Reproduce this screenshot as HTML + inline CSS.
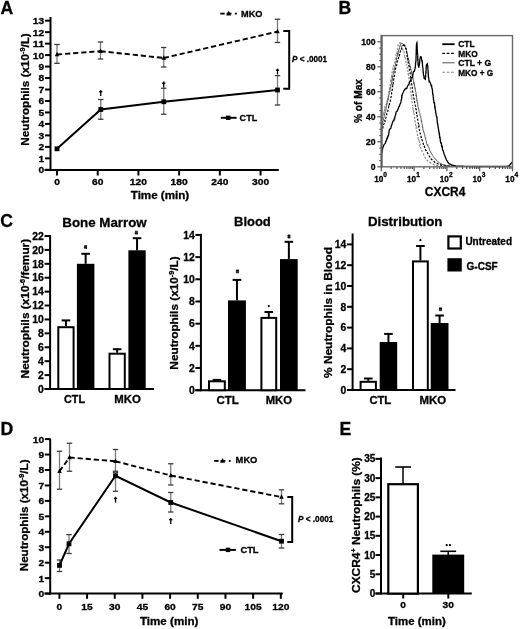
<!DOCTYPE html>
<html><head><meta charset="utf-8"><style>
html,body{margin:0;padding:0;background:#fff;}
svg{display:block;will-change:transform;}
text{stroke:#000;stroke-width:0.3px;font-family:"Liberation Sans", sans-serif;}
</style></head><body>
<svg width="520" height="629" viewBox="0 0 520 629" font-family='"Liberation Sans", sans-serif'>
<rect width="520" height="629" fill="#fff"/>
<text x="0.6" y="14.1" font-size="17.6" font-weight="bold" fill="#000">A</text>
<line x1="50.5" y1="17" x2="50.5" y2="171" stroke="#000" stroke-width="2"/>
<line x1="45" y1="169.8" x2="50.5" y2="169.8" stroke="#000" stroke-width="2"/>
<text x="44.2" y="173.20" font-size="9.5" font-weight="bold" text-anchor="end" textLength="5.7" lengthAdjust="spacingAndGlyphs" fill="#000">0</text>
<line x1="45" y1="158.33" x2="50.5" y2="158.33" stroke="#000" stroke-width="2"/>
<text x="44.2" y="161.73" font-size="9.5" font-weight="bold" text-anchor="end" textLength="5.7" lengthAdjust="spacingAndGlyphs" fill="#000">1</text>
<line x1="45" y1="146.86" x2="50.5" y2="146.86" stroke="#000" stroke-width="2"/>
<text x="44.2" y="150.26" font-size="9.5" font-weight="bold" text-anchor="end" textLength="5.7" lengthAdjust="spacingAndGlyphs" fill="#000">2</text>
<line x1="45" y1="135.39" x2="50.5" y2="135.39" stroke="#000" stroke-width="2"/>
<text x="44.2" y="138.79" font-size="9.5" font-weight="bold" text-anchor="end" textLength="5.7" lengthAdjust="spacingAndGlyphs" fill="#000">3</text>
<line x1="45" y1="123.92" x2="50.5" y2="123.92" stroke="#000" stroke-width="2"/>
<text x="44.2" y="127.32" font-size="9.5" font-weight="bold" text-anchor="end" textLength="5.7" lengthAdjust="spacingAndGlyphs" fill="#000">4</text>
<line x1="45" y1="112.45" x2="50.5" y2="112.45" stroke="#000" stroke-width="2"/>
<text x="44.2" y="115.85" font-size="9.5" font-weight="bold" text-anchor="end" textLength="5.7" lengthAdjust="spacingAndGlyphs" fill="#000">5</text>
<line x1="45" y1="100.98" x2="50.5" y2="100.98" stroke="#000" stroke-width="2"/>
<text x="44.2" y="104.38" font-size="9.5" font-weight="bold" text-anchor="end" textLength="5.7" lengthAdjust="spacingAndGlyphs" fill="#000">6</text>
<line x1="45" y1="89.51" x2="50.5" y2="89.51" stroke="#000" stroke-width="2"/>
<text x="44.2" y="92.91" font-size="9.5" font-weight="bold" text-anchor="end" textLength="5.7" lengthAdjust="spacingAndGlyphs" fill="#000">7</text>
<line x1="45" y1="78.04" x2="50.5" y2="78.04" stroke="#000" stroke-width="2"/>
<text x="44.2" y="81.44" font-size="9.5" font-weight="bold" text-anchor="end" textLength="5.7" lengthAdjust="spacingAndGlyphs" fill="#000">8</text>
<line x1="45" y1="66.57" x2="50.5" y2="66.57" stroke="#000" stroke-width="2"/>
<text x="44.2" y="69.97" font-size="9.5" font-weight="bold" text-anchor="end" textLength="5.7" lengthAdjust="spacingAndGlyphs" fill="#000">9</text>
<line x1="45" y1="55.10" x2="50.5" y2="55.10" stroke="#000" stroke-width="2"/>
<text x="44.2" y="58.50" font-size="9.5" font-weight="bold" text-anchor="end" textLength="11.4" lengthAdjust="spacingAndGlyphs" fill="#000">10</text>
<line x1="45" y1="43.63" x2="50.5" y2="43.63" stroke="#000" stroke-width="2"/>
<text x="44.2" y="47.03" font-size="9.5" font-weight="bold" text-anchor="end" textLength="11.4" lengthAdjust="spacingAndGlyphs" fill="#000">11</text>
<line x1="45" y1="32.16" x2="50.5" y2="32.16" stroke="#000" stroke-width="2"/>
<text x="44.2" y="35.55" font-size="9.5" font-weight="bold" text-anchor="end" textLength="11.4" lengthAdjust="spacingAndGlyphs" fill="#000">12</text>
<line x1="45" y1="20.68" x2="50.5" y2="20.68" stroke="#000" stroke-width="2"/>
<text x="44.2" y="24.08" font-size="9.5" font-weight="bold" text-anchor="end" textLength="11.4" lengthAdjust="spacingAndGlyphs" fill="#000">13</text>
<line x1="44.5" y1="170" x2="278.8" y2="170" stroke="#000" stroke-width="2"/>
<line x1="57.0" y1="170" x2="57.0" y2="175.5" stroke="#000" stroke-width="2"/>
<text x="57.0" y="185.4" font-size="9.5" font-weight="bold" text-anchor="middle" textLength="5.7" lengthAdjust="spacingAndGlyphs" fill="#000">0</text>
<line x1="97.71" y1="170" x2="97.71" y2="175.5" stroke="#000" stroke-width="2"/>
<text x="97.71" y="185.4" font-size="9.5" font-weight="bold" text-anchor="middle" textLength="11.4" lengthAdjust="spacingAndGlyphs" fill="#000">60</text>
<line x1="138.42" y1="170" x2="138.42" y2="175.5" stroke="#000" stroke-width="2"/>
<text x="138.42" y="185.4" font-size="9.5" font-weight="bold" text-anchor="middle" textLength="17.1" lengthAdjust="spacingAndGlyphs" fill="#000">120</text>
<line x1="179.13" y1="170" x2="179.13" y2="175.5" stroke="#000" stroke-width="2"/>
<text x="179.13" y="185.4" font-size="9.5" font-weight="bold" text-anchor="middle" textLength="17.1" lengthAdjust="spacingAndGlyphs" fill="#000">180</text>
<line x1="219.84" y1="170" x2="219.84" y2="175.5" stroke="#000" stroke-width="2"/>
<text x="219.84" y="185.4" font-size="9.5" font-weight="bold" text-anchor="middle" textLength="17.1" lengthAdjust="spacingAndGlyphs" fill="#000">240</text>
<line x1="260.55" y1="170" x2="260.55" y2="175.5" stroke="#000" stroke-width="2"/>
<text x="260.55" y="185.4" font-size="9.5" font-weight="bold" text-anchor="middle" textLength="17.1" lengthAdjust="spacingAndGlyphs" fill="#000">300</text>
<text x="160" y="199" font-size="11" font-weight="bold" text-anchor="middle" textLength="58.5" lengthAdjust="spacingAndGlyphs" fill="#000">Time (min)</text>
<text transform="translate(29.4,89.45) rotate(-90)" x="0" y="0" font-size="11.4" font-weight="bold" text-anchor="middle" textLength="112.4" lengthAdjust="spacingAndGlyphs">Neutrophils (x10<tspan dy="-4" font-size="7">-9</tspan><tspan dy="4">/L)</tspan></text>
<line x1="57" y1="44.5" x2="57" y2="63.3" stroke="#7a7a7a" stroke-width="1.3"/>
<line x1="54.3" y1="44.5" x2="59.7" y2="44.5" stroke="#3a3a3a" stroke-width="1.3"/>
<line x1="54.3" y1="63.3" x2="59.7" y2="63.3" stroke="#3a3a3a" stroke-width="1.3"/>
<line x1="100.5" y1="42" x2="100.5" y2="59" stroke="#7a7a7a" stroke-width="1.3"/>
<line x1="97.8" y1="42" x2="103.2" y2="42" stroke="#3a3a3a" stroke-width="1.3"/>
<line x1="97.8" y1="59" x2="103.2" y2="59" stroke="#3a3a3a" stroke-width="1.3"/>
<line x1="163.75" y1="47.5" x2="163.75" y2="67" stroke="#7a7a7a" stroke-width="1.3"/>
<line x1="161.05" y1="47.5" x2="166.45" y2="47.5" stroke="#3a3a3a" stroke-width="1.3"/>
<line x1="161.05" y1="67" x2="166.45" y2="67" stroke="#3a3a3a" stroke-width="1.3"/>
<line x1="277.5" y1="19.25" x2="277.5" y2="42.5" stroke="#7a7a7a" stroke-width="1.3"/>
<line x1="274.8" y1="19.25" x2="280.2" y2="19.25" stroke="#3a3a3a" stroke-width="1.3"/>
<line x1="274.8" y1="42.5" x2="280.2" y2="42.5" stroke="#3a3a3a" stroke-width="1.3"/>
<line x1="57" y1="54.5" x2="100.5" y2="51.2" stroke="#000" stroke-width="1.9" stroke-dasharray="5.2,2.9"/>
<line x1="100.5" y1="51.2" x2="163.75" y2="58" stroke="#000" stroke-width="1.9" stroke-dasharray="5.2,2.9"/>
<line x1="163.75" y1="58" x2="277.5" y2="31.6" stroke="#000" stroke-width="1.9" stroke-dasharray="5.2,2.9"/>
<path d="M54.75,56.25 L57,51.75 L59.25,56.25 Z" fill="#000"/>
<path d="M98.25,52.95 L100.5,48.45 L102.75,52.95 Z" fill="#000"/>
<path d="M161.5,59.75 L163.75,55.25 L166.0,59.75 Z" fill="#000"/>
<path d="M275.25,33.35 L277.5,28.85 L279.75,33.35 Z" fill="#000"/>
<line x1="100.75" y1="99.5" x2="100.75" y2="119.25" stroke="#7a7a7a" stroke-width="1.3"/>
<line x1="98.05" y1="99.5" x2="103.45" y2="99.5" stroke="#3a3a3a" stroke-width="1.3"/>
<line x1="98.05" y1="119.25" x2="103.45" y2="119.25" stroke="#3a3a3a" stroke-width="1.3"/>
<line x1="163.75" y1="88.25" x2="163.75" y2="114.25" stroke="#7a7a7a" stroke-width="1.3"/>
<line x1="161.05" y1="88.25" x2="166.45" y2="88.25" stroke="#3a3a3a" stroke-width="1.3"/>
<line x1="161.05" y1="114.25" x2="166.45" y2="114.25" stroke="#3a3a3a" stroke-width="1.3"/>
<line x1="277.5" y1="75.6" x2="277.5" y2="105" stroke="#7a7a7a" stroke-width="1.3"/>
<line x1="274.8" y1="75.6" x2="280.2" y2="75.6" stroke="#3a3a3a" stroke-width="1.3"/>
<line x1="274.8" y1="105" x2="280.2" y2="105" stroke="#3a3a3a" stroke-width="1.3"/>
<polyline points="57,148.8 100.75,109.5 163.75,101.75 277.5,90" fill="none" stroke="#000" stroke-width="2"/>
<rect x="54.6" y="146.4" width="4.8" height="4.8" fill="#000"/>
<rect x="98.35" y="107.1" width="4.8" height="4.8" fill="#000"/>
<rect x="161.35" y="99.35" width="4.8" height="4.8" fill="#000"/>
<rect x="275.1" y="87.6" width="4.8" height="4.8" fill="#000"/>
<line x1="100.75" y1="90.1" x2="100.75" y2="95.9" stroke="#000" stroke-width="1.3"/>
<line x1="99.15" y1="91.7" x2="102.35" y2="91.7" stroke="#000" stroke-width="1.4"/>
<line x1="163.75" y1="81.6" x2="163.75" y2="87.4" stroke="#000" stroke-width="1.3"/>
<line x1="162.15" y1="83.2" x2="165.35" y2="83.2" stroke="#000" stroke-width="1.4"/>
<line x1="277.5" y1="68.6" x2="277.5" y2="74.4" stroke="#000" stroke-width="1.3"/>
<line x1="275.9" y1="70.2" x2="279.1" y2="70.2" stroke="#000" stroke-width="1.4"/>
<path d="M283.3,31 H289.2 V88.8 H283.3" fill="none" stroke="#000" stroke-width="2"/>
<text x="292" y="62.2" font-size="8.5" font-weight="bold" textLength="35" lengthAdjust="spacingAndGlyphs" fill="#000"><tspan font-style="italic">P</tspan> &lt; .0001</text>
<line x1="220.3" y1="13.6" x2="224.70" y2="13.6" stroke="#000" stroke-width="1.8"/>
<line x1="226.60" y1="13.6" x2="231.5" y2="13.6" stroke="#000" stroke-width="1.8"/>
<path d="M226.20,15.4 L228.70,10.7 L231.20,15.4 Z" fill="#000"/>
<line x1="234.9" y1="13.6" x2="236.8" y2="13.6" stroke="#000" stroke-width="1.8"/>
<text x="241" y="16.7" font-size="9.4" font-weight="bold" textLength="21.4" lengthAdjust="spacingAndGlyphs" fill="#000">MKO</text>
<line x1="220.8" y1="117.8" x2="236.6" y2="117.8" stroke="#000" stroke-width="2"/>
<rect x="226.0" y="115.6" width="4.4" height="4.4" fill="#000"/>
<text x="239.6" y="120.6" font-size="9.4" font-weight="bold" textLength="17.6" lengthAdjust="spacingAndGlyphs" fill="#000">CTL</text>
<text x="338.4" y="14.1" font-size="17.6" font-weight="bold" fill="#000">B</text>
<line x1="377.3" y1="166.8" x2="381.3" y2="166.8" stroke="#555" stroke-width="1.2"/>
<line x1="379.3" y1="160.55" x2="381.3" y2="160.55" stroke="#555" stroke-width="1.2"/>
<line x1="379.3" y1="154.3" x2="381.3" y2="154.3" stroke="#555" stroke-width="1.2"/>
<line x1="379.3" y1="148.05" x2="381.3" y2="148.05" stroke="#555" stroke-width="1.2"/>
<line x1="377.3" y1="141.8" x2="381.3" y2="141.8" stroke="#555" stroke-width="1.2"/>
<line x1="379.3" y1="135.55" x2="381.3" y2="135.55" stroke="#555" stroke-width="1.2"/>
<line x1="379.3" y1="129.3" x2="381.3" y2="129.3" stroke="#555" stroke-width="1.2"/>
<line x1="379.3" y1="123.05" x2="381.3" y2="123.05" stroke="#555" stroke-width="1.2"/>
<line x1="377.3" y1="116.80" x2="381.3" y2="116.80" stroke="#555" stroke-width="1.2"/>
<line x1="379.3" y1="110.55" x2="381.3" y2="110.55" stroke="#555" stroke-width="1.2"/>
<line x1="379.3" y1="104.30" x2="381.3" y2="104.30" stroke="#555" stroke-width="1.2"/>
<line x1="379.3" y1="98.05" x2="381.3" y2="98.05" stroke="#555" stroke-width="1.2"/>
<line x1="377.3" y1="91.80" x2="381.3" y2="91.80" stroke="#555" stroke-width="1.2"/>
<line x1="379.3" y1="85.55" x2="381.3" y2="85.55" stroke="#555" stroke-width="1.2"/>
<line x1="379.3" y1="79.30" x2="381.3" y2="79.30" stroke="#555" stroke-width="1.2"/>
<line x1="379.3" y1="73.05" x2="381.3" y2="73.05" stroke="#555" stroke-width="1.2"/>
<line x1="377.3" y1="66.80" x2="381.3" y2="66.80" stroke="#555" stroke-width="1.2"/>
<line x1="379.3" y1="60.55" x2="381.3" y2="60.55" stroke="#555" stroke-width="1.2"/>
<line x1="379.3" y1="54.30" x2="381.3" y2="54.30" stroke="#555" stroke-width="1.2"/>
<line x1="379.3" y1="48.05" x2="381.3" y2="48.05" stroke="#555" stroke-width="1.2"/>
<line x1="377.3" y1="41.80" x2="381.3" y2="41.80" stroke="#555" stroke-width="1.2"/>
<text x="375.6" y="169.8" font-size="8.6" font-weight="bold" text-anchor="end" fill="#000">0</text>
<text x="375.6" y="144.8" font-size="8.6" font-weight="bold" text-anchor="end" fill="#000">20</text>
<text x="375.6" y="119.80" font-size="8.6" font-weight="bold" text-anchor="end" fill="#000">40</text>
<text x="375.6" y="94.80" font-size="8.6" font-weight="bold" text-anchor="end" fill="#000">60</text>
<text x="375.6" y="69.80" font-size="8.6" font-weight="bold" text-anchor="end" fill="#000">80</text>
<text x="375.6" y="44.80" font-size="8.6" font-weight="bold" text-anchor="end" fill="#000">100</text>
<line x1="381.3" y1="166.8" x2="381.3" y2="171.3" stroke="#555" stroke-width="1.2"/>
<line x1="391.17" y1="166.8" x2="391.17" y2="169.0" stroke="#555" stroke-width="1.2"/>
<line x1="396.94" y1="166.8" x2="396.94" y2="169.0" stroke="#555" stroke-width="1.2"/>
<line x1="401.04" y1="166.8" x2="401.04" y2="169.0" stroke="#555" stroke-width="1.2"/>
<line x1="404.22" y1="166.8" x2="404.22" y2="169.0" stroke="#555" stroke-width="1.2"/>
<line x1="406.82" y1="166.8" x2="406.82" y2="169.0" stroke="#555" stroke-width="1.2"/>
<line x1="409.01" y1="166.8" x2="409.01" y2="169.0" stroke="#555" stroke-width="1.2"/>
<line x1="410.92" y1="166.8" x2="410.92" y2="169.0" stroke="#555" stroke-width="1.2"/>
<line x1="412.59" y1="166.8" x2="412.59" y2="169.0" stroke="#555" stroke-width="1.2"/>
<line x1="414.1" y1="166.8" x2="414.1" y2="171.3" stroke="#555" stroke-width="1.2"/>
<line x1="423.97" y1="166.8" x2="423.97" y2="169.0" stroke="#555" stroke-width="1.2"/>
<line x1="429.74" y1="166.8" x2="429.74" y2="169.0" stroke="#555" stroke-width="1.2"/>
<line x1="433.84" y1="166.8" x2="433.84" y2="169.0" stroke="#555" stroke-width="1.2"/>
<line x1="437.02" y1="166.8" x2="437.02" y2="169.0" stroke="#555" stroke-width="1.2"/>
<line x1="439.62" y1="166.8" x2="439.62" y2="169.0" stroke="#555" stroke-width="1.2"/>
<line x1="441.81" y1="166.8" x2="441.81" y2="169.0" stroke="#555" stroke-width="1.2"/>
<line x1="443.72" y1="166.8" x2="443.72" y2="169.0" stroke="#555" stroke-width="1.2"/>
<line x1="445.39" y1="166.8" x2="445.39" y2="169.0" stroke="#555" stroke-width="1.2"/>
<line x1="446.9" y1="166.8" x2="446.9" y2="171.3" stroke="#555" stroke-width="1.2"/>
<line x1="456.77" y1="166.8" x2="456.77" y2="169.0" stroke="#555" stroke-width="1.2"/>
<line x1="462.54" y1="166.8" x2="462.54" y2="169.0" stroke="#555" stroke-width="1.2"/>
<line x1="466.64" y1="166.8" x2="466.64" y2="169.0" stroke="#555" stroke-width="1.2"/>
<line x1="469.82" y1="166.8" x2="469.82" y2="169.0" stroke="#555" stroke-width="1.2"/>
<line x1="472.42" y1="166.8" x2="472.42" y2="169.0" stroke="#555" stroke-width="1.2"/>
<line x1="474.61" y1="166.8" x2="474.61" y2="169.0" stroke="#555" stroke-width="1.2"/>
<line x1="476.52" y1="166.8" x2="476.52" y2="169.0" stroke="#555" stroke-width="1.2"/>
<line x1="478.19" y1="166.8" x2="478.19" y2="169.0" stroke="#555" stroke-width="1.2"/>
<line x1="479.7" y1="166.8" x2="479.7" y2="171.3" stroke="#555" stroke-width="1.2"/>
<line x1="489.57" y1="166.8" x2="489.57" y2="169.0" stroke="#555" stroke-width="1.2"/>
<line x1="495.34" y1="166.8" x2="495.34" y2="169.0" stroke="#555" stroke-width="1.2"/>
<line x1="499.44" y1="166.8" x2="499.44" y2="169.0" stroke="#555" stroke-width="1.2"/>
<line x1="502.62" y1="166.8" x2="502.62" y2="169.0" stroke="#555" stroke-width="1.2"/>
<line x1="505.22" y1="166.8" x2="505.22" y2="169.0" stroke="#555" stroke-width="1.2"/>
<line x1="507.41" y1="166.8" x2="507.41" y2="169.0" stroke="#555" stroke-width="1.2"/>
<line x1="509.32" y1="166.8" x2="509.32" y2="169.0" stroke="#555" stroke-width="1.2"/>
<line x1="510.99" y1="166.8" x2="510.99" y2="169.0" stroke="#555" stroke-width="1.2"/>
<line x1="512.5" y1="166.8" x2="512.5" y2="171.3" stroke="#555" stroke-width="1.2"/>
<text x="378.7" y="181.8" font-size="8.2" font-weight="bold" text-anchor="middle">10</text>
<text x="385.2" y="177.3" font-size="6.6" font-weight="bold" text-anchor="middle">0</text>
<text x="411.5" y="181.8" font-size="8.2" font-weight="bold" text-anchor="middle">10</text>
<text x="418.0" y="177.3" font-size="6.6" font-weight="bold" text-anchor="middle">1</text>
<text x="444.29" y="181.8" font-size="8.2" font-weight="bold" text-anchor="middle">10</text>
<text x="450.79" y="177.3" font-size="6.6" font-weight="bold" text-anchor="middle">2</text>
<text x="477.09" y="181.8" font-size="8.2" font-weight="bold" text-anchor="middle">10</text>
<text x="483.59" y="177.3" font-size="6.6" font-weight="bold" text-anchor="middle">3</text>
<text x="509.9" y="181.8" font-size="8.2" font-weight="bold" text-anchor="middle">10</text>
<text x="516.4" y="177.3" font-size="6.6" font-weight="bold" text-anchor="middle">4</text>
<text x="424.8" y="195.8" font-size="12.2" font-weight="bold" textLength="40.5" lengthAdjust="spacingAndGlyphs" fill="#000">CXCR4</text>
<text transform="translate(361.5,101) rotate(-90)" x="0" y="0" font-size="10" font-weight="bold" text-anchor="middle" textLength="44" lengthAdjust="spacingAndGlyphs">% of Max</text>
<polyline points="381.50,124.00 381.69,121.90 381.88,123.04 382.06,121.79 382.25,119.27 382.44,118.99 382.62,117.85 382.81,117.45 383.00,116.00 383.25,115.87 383.50,112.78 383.75,111.59 384.00,113.01 384.25,110.80 384.50,110.79 384.75,107.51 385.00,108.00 385.38,106.84 385.75,106.66 386.12,104.19 386.50,104.00 386.74,104.34 386.98,103.20 387.21,99.59 387.45,98.58 387.69,99.12 387.92,99.32 388.16,96.64 388.40,96.00 388.58,94.05 388.76,93.57 388.93,91.29 389.11,90.77 389.29,90.31 389.47,89.39 389.64,87.50 389.82,86.39 390.00,86.10 390.15,84.25 390.31,83.96 390.46,82.44 390.62,80.63 390.77,82.07 390.93,80.21 391.08,79.46 391.24,77.08 391.39,78.50 391.55,77.09 391.70,75.00 391.91,72.75 392.12,72.27 392.34,72.33 392.55,71.18 392.76,70.75 392.97,68.09 393.19,68.20 393.40,66.10 393.71,65.50 394.03,63.28 394.34,63.02 394.66,62.79 394.97,61.57 395.29,59.43 395.60,58.30 395.84,57.45 396.09,54.68 396.33,54.19 396.57,54.74 396.81,52.47 397.06,50.63 397.30,50.50 397.48,49.53 397.67,48.88 397.85,47.67 398.03,45.66 398.22,44.73 398.40,43.80 400.00,42.70 400.43,43.83 400.85,45.74 401.27,46.06 401.70,47.10 402.35,48.23 403.00,50.00 403.33,50.97 403.67,50.59 404.00,51.63 404.33,54.61 404.67,56.45 405.00,56.00 405.20,57.28 405.40,57.68 405.60,58.01 405.80,60.01 406.00,62.45 406.20,62.81 406.40,63.12 406.60,65.08 406.80,64.20 407.00,66.00 407.17,67.04 407.33,69.36 407.50,69.23 407.67,69.88 407.83,70.31 408.00,72.14 408.17,74.37 408.33,72.52 408.50,75.85 408.67,76.96 408.83,78.16 409.00,78.00 409.14,79.72 409.27,80.93 409.41,81.06 409.55,82.18 409.68,82.78 409.82,82.67 409.95,86.11 410.09,86.21 410.23,86.10 410.36,88.01 410.50,89.00 410.63,89.95 410.75,90.57 410.88,91.54 411.01,93.12 411.14,94.37 411.26,95.34 411.39,95.87 411.52,95.58 411.65,97.19 411.77,98.03 411.90,100.00 412.03,101.28 412.17,103.13 412.30,103.96 412.43,104.98 412.57,106.06 412.70,105.40 412.83,108.18 412.97,108.70 413.10,109.20 413.27,108.99 413.44,109.83 413.61,110.86 413.78,114.13 413.95,113.65 414.12,114.27 414.29,116.85 414.46,117.05 414.63,117.27 414.80,119.60 414.97,119.62 415.14,121.76 415.31,121.72 415.48,123.08 415.65,125.43 415.82,125.70 415.99,126.35 416.16,127.84 416.33,127.53 416.50,130.00 416.71,130.71 416.92,131.85 417.13,132.20 417.34,133.01 417.55,136.43 417.75,136.30 417.96,136.45 418.17,138.68 418.38,140.36 418.59,139.02 418.80,141.50 419.15,141.09 419.50,142.52 419.85,145.28 420.20,144.64 420.55,147.31 420.90,148.27 421.25,148.91 421.60,148.98 421.95,150.86 422.30,151.90 422.88,153.05 423.47,154.20 424.05,155.35 424.63,156.50 425.22,157.65 425.80,158.80 426.93,159.97 428.07,161.13 429.20,162.30 430.35,162.88 431.50,163.45 432.65,164.03 433.80,164.60 434.96,164.84 436.12,165.08 437.28,165.32 438.44,165.56 439.60,165.80 440.64,165.87 441.68,165.94 442.72,166.01 443.76,166.08 444.80,166.15 445.84,166.22 446.88,166.29 447.92,166.36 448.96,166.43 450.00,166.50 451.00,166.50 452.00,166.50 453.00,166.50 454.00,166.50 455.00,166.50 456.00,166.50 457.00,166.50 458.00,166.50 459.00,166.50 460.00,166.50 461.00,166.50 462.00,166.50 463.00,166.50 464.00,166.50 465.00,166.50 466.00,166.50 467.00,166.50 468.00,166.50 469.00,166.50 470.00,166.50 471.00,166.50 472.00,166.50 473.00,166.50 474.00,166.50 475.00,166.50 476.00,166.50 477.00,166.50 478.00,166.50 479.00,166.50 480.00,166.50 481.00,166.50 482.00,166.50 483.00,166.50 484.00,166.50 485.00,166.50 486.00,166.50 487.00,166.50 488.00,166.50 489.00,166.50 490.00,166.50 491.00,166.50 492.00,166.50 493.00,166.50 494.00,166.50 495.00,166.50 496.00,166.50 497.00,166.50 498.00,166.50 499.00,166.50 500.00,166.50 501.00,166.50 502.00,166.50 503.00,166.50 504.00,166.50 505.00,166.50 506.00,166.50 507.00,166.50 508.00,166.50 509.00,166.50" fill="none" stroke="#8a8a8a" stroke-width="1.2" stroke-dasharray="2.2,1.5"/>
<polyline points="381.50,128.00 381.71,128.19 381.93,127.16 382.14,123.85 382.36,122.92 382.57,123.87 382.79,122.61 383.00,121.00 383.25,120.44 383.50,118.50 383.75,118.28 384.00,117.28 384.25,116.21 384.50,114.11 384.75,113.82 385.00,113.00 385.22,111.72 385.44,111.58 385.67,111.29 385.89,110.17 386.11,108.11 386.33,106.86 386.56,105.40 386.78,103.79 387.00,104.00 387.22,101.77 387.44,101.91 387.67,100.53 387.89,99.69 388.11,100.02 388.33,98.07 388.56,97.16 388.78,95.31 389.00,95.00 389.20,92.76 389.40,92.55 389.60,91.06 389.80,91.03 390.00,91.30 390.20,89.45 390.40,87.17 390.60,88.02 390.80,86.77 391.00,85.00 391.20,84.61 391.40,84.06 391.60,82.68 391.80,81.75 392.00,79.62 392.20,80.25 392.40,79.20 392.60,76.12 392.80,76.66 393.00,75.00 393.22,74.56 393.44,72.90 393.67,72.08 393.89,70.97 394.11,71.10 394.33,69.00 394.56,68.86 394.78,66.62 395.00,66.00 395.22,66.00 395.44,65.04 395.67,62.90 395.89,62.18 396.11,62.09 396.33,60.58 396.56,58.97 396.78,57.28 397.00,57.00 397.25,55.54 397.50,55.52 397.75,53.13 398.00,54.06 398.25,51.40 398.50,52.07 398.75,49.50 399.00,49.00 399.30,49.19 399.60,47.54 399.90,46.01 400.20,45.05 400.50,44.00 402.00,43.00 402.75,44.39 403.50,45.00 404.55,46.28 405.60,47.10 405.87,47.74 406.14,48.60 406.41,50.52 406.69,52.74 406.96,53.06 407.23,52.77 407.50,55.00 407.72,56.83 407.94,57.59 408.17,59.06 408.39,58.20 408.61,60.64 408.83,59.85 409.06,62.40 409.28,62.41 409.50,64.00 409.75,64.29 410.00,66.98 410.25,65.98 410.50,68.06 410.75,69.92 411.00,69.34 411.25,70.25 411.50,72.00 411.74,74.06 411.98,73.95 412.21,75.79 412.45,75.08 412.69,77.02 412.92,77.60 413.16,79.97 413.40,80.60 413.61,80.52 413.82,83.80 414.03,82.39 414.24,85.23 414.45,84.40 414.65,86.02 414.86,88.48 415.07,87.78 415.28,88.86 415.49,91.19 415.70,91.70 415.85,92.42 415.99,92.55 416.14,96.03 416.28,94.87 416.43,95.59 416.57,97.40 416.72,99.13 416.86,100.48 417.01,99.86 417.15,101.46 417.30,102.90 417.55,102.73 417.80,104.87 418.05,106.74 418.30,107.72 418.55,109.20 418.80,109.20 419.04,110.90 419.28,112.22 419.52,112.85 419.76,113.29 420.00,113.69 420.24,115.86 420.48,116.00 420.72,116.49 420.96,118.42 421.20,119.60 421.39,121.60 421.58,120.68 421.77,122.89 421.96,123.41 422.14,124.75 422.33,124.81 422.52,127.95 422.71,127.15 422.90,128.80 423.16,130.11 423.41,130.66 423.67,130.65 423.92,133.08 424.18,133.03 424.43,133.85 424.69,134.82 424.94,136.19 425.20,138.10 425.56,138.06 425.93,140.48 426.29,141.16 426.65,143.41 427.01,144.29 427.38,145.46 427.74,144.49 428.10,146.20 428.56,147.20 429.02,147.83 429.48,149.86 429.94,150.76 430.40,151.90 431.12,153.05 431.85,154.20 432.57,155.35 433.30,156.50 434.27,157.67 435.23,158.83 436.20,160.00 437.33,160.97 438.47,161.93 439.60,162.90 440.77,163.47 441.93,164.03 443.10,164.60 444.25,164.90 445.40,165.20 446.55,165.50 447.70,165.80 448.74,165.90 449.79,166.00 450.83,166.10 451.87,166.20 452.91,166.30 453.96,166.40 455.00,166.50 456.00,166.50 457.00,166.50 458.00,166.50 459.00,166.50 460.00,166.50 461.00,166.50 462.00,166.50 463.00,166.50 464.00,166.50 465.00,166.50 466.00,166.50 467.00,166.50 468.00,166.50 469.00,166.50 470.00,166.50 471.00,166.50 472.00,166.50 473.00,166.50 474.00,166.50 475.00,166.50 476.00,166.50 477.00,166.50 478.00,166.50 479.00,166.50 480.00,166.50 481.00,166.50 482.00,166.50 483.00,166.50 484.00,166.50 485.00,166.50 486.00,166.50 487.00,166.50 488.00,166.50 489.00,166.50 490.00,166.50 491.00,166.50 492.00,166.50 493.00,166.50 494.00,166.50 495.00,166.50 496.00,166.50 497.00,166.50 498.00,166.50 499.00,166.50 500.00,166.50 501.00,166.50 502.00,166.50 503.00,166.50 504.00,166.50 505.00,166.50 506.00,166.50 507.00,166.50 508.00,166.50 509.00,166.50" fill="none" stroke="#5a5a5a" stroke-width="1.0"/>
<polyline points="381.50,132.00 381.81,130.53 382.12,130.08 382.44,128.77 382.75,128.19 383.06,127.23 383.38,125.22 383.69,124.12 384.00,124.00 384.29,123.61 384.57,121.57 384.86,120.52 385.14,120.89 385.43,118.95 385.71,118.61 386.00,117.00 386.29,115.96 386.57,115.25 386.86,113.37 387.14,113.24 387.43,112.66 387.71,111.04 388.00,110.00 388.25,109.43 388.50,108.31 388.75,106.22 389.00,106.46 389.25,105.16 389.50,103.64 389.75,102.16 390.00,102.00 390.19,101.62 390.38,99.87 390.57,99.27 390.77,98.52 390.96,97.18 391.15,96.51 391.34,94.52 391.53,94.21 391.73,92.53 391.92,92.37 392.11,91.22 392.30,89.50 392.45,87.76 392.59,86.81 392.74,85.94 392.88,86.27 393.03,84.29 393.17,83.62 393.32,82.01 393.46,81.37 393.61,80.13 393.75,79.05 393.90,78.30 394.07,77.45 394.24,76.45 394.41,76.03 394.58,74.63 394.75,74.07 394.92,72.94 395.09,72.18 395.26,70.61 395.43,68.69 395.60,68.30 395.91,67.83 396.23,66.91 396.54,65.69 396.86,63.97 397.17,63.11 397.49,61.09 397.80,60.50 398.11,59.98 398.43,58.40 398.74,56.77 399.06,55.26 399.37,55.57 399.69,54.70 400.00,52.70 400.46,50.84 400.92,51.00 401.38,49.18 401.84,47.59 402.30,47.10 402.87,45.63 403.43,45.38 404.00,43.80 404.55,45.57 405.10,46.00 405.37,46.30 405.63,48.44 405.90,48.53 406.17,50.86 406.43,51.28 406.70,52.70 406.85,54.40 407.01,55.60 407.16,55.76 407.32,57.67 407.47,57.45 407.63,58.05 407.78,60.01 407.94,60.00 408.09,61.32 408.25,62.72 408.40,63.90 408.61,65.21 408.82,65.51 409.04,66.41 409.25,69.01 409.46,69.13 409.68,71.40 409.89,72.40 410.10,72.80 410.26,73.69 410.41,74.96 410.57,76.18 410.73,77.52 410.89,78.54 411.04,79.59 411.20,80.60 411.36,81.93 411.51,83.62 411.67,83.96 411.83,84.93 411.99,86.57 412.14,86.81 412.30,88.40 412.46,89.13 412.61,91.43 412.77,91.70 412.93,92.83 413.09,92.95 413.24,94.76 413.40,96.00 413.60,97.14 413.80,97.14 414.00,99.21 414.20,100.24 414.40,100.21 414.60,102.00 414.80,103.26 415.00,104.00 415.20,105.41 415.40,105.85 415.60,107.52 415.80,108.60 416.00,109.20 416.17,109.38 416.34,110.49 416.51,112.64 416.68,114.19 416.85,113.95 417.02,115.36 417.19,116.65 417.36,117.20 417.53,118.32 417.70,119.60 417.87,120.30 418.04,121.44 418.21,122.89 418.38,123.40 418.55,124.58 418.72,126.33 418.89,126.03 419.06,128.04 419.23,129.38 419.40,130.00 419.66,130.68 419.91,131.55 420.17,133.61 420.42,133.62 420.68,134.55 420.93,136.02 421.19,137.51 421.44,137.46 421.70,139.20 422.06,139.89 422.43,140.93 422.79,142.84 423.15,143.14 423.51,144.90 423.88,144.68 424.24,145.99 424.60,147.30 425.18,148.72 425.77,150.29 426.35,150.75 426.93,151.90 427.52,153.05 428.10,154.20 428.83,155.35 429.55,156.50 430.27,157.65 431.00,158.80 432.00,159.68 433.00,160.55 434.00,161.43 435.00,162.30 436.15,162.88 437.30,163.45 438.45,164.03 439.60,164.60 440.75,164.90 441.90,165.20 443.05,165.50 444.20,165.80 445.28,165.87 446.36,165.94 447.44,166.01 448.52,166.08 449.60,166.15 450.68,166.22 451.76,166.29 452.84,166.36 453.92,166.43 455.00,166.50 456.00,166.50 457.00,166.50 458.00,166.50 459.00,166.50 460.00,166.50 461.00,166.50 462.00,166.50 463.00,166.50 464.00,166.50 465.00,166.50 466.00,166.50 467.00,166.50 468.00,166.50 469.00,166.50 470.00,166.50 471.00,166.50 472.00,166.50 473.00,166.50 474.00,166.50 475.00,166.50 476.00,166.50 477.00,166.50 478.00,166.50 479.00,166.50 480.00,166.50 481.00,166.50 482.00,166.50 483.00,166.50 484.00,166.50 485.00,166.50 486.00,166.50 487.00,166.50 488.00,166.50 489.00,166.50 490.00,166.50 491.00,166.50 492.00,166.50 493.00,166.50 494.00,166.50 495.00,166.50 496.00,166.50 497.00,166.50 498.00,166.50 499.00,166.50 500.00,166.50 501.00,166.50 502.00,166.50 503.00,166.50 504.00,166.50 505.00,166.50 506.00,166.50 507.00,166.50 508.00,166.50 509.00,166.50" fill="none" stroke="#000" stroke-width="1.2" stroke-dasharray="2.2,1.5"/>
<polyline points="381.50,153.00 382.10,151.80 382.38,150.60 382.65,148.56 382.93,146.93 383.20,147.00 383.75,145.32 384.30,144.30 385.30,143.50 385.85,141.15 386.40,141.00 386.85,138.36 387.30,138.50 387.70,136.79 388.10,135.70 388.40,135.76 388.70,134.10 389.00,132.71 389.30,129.69 389.60,129.30 390.60,128.50 391.00,127.45 391.40,125.45 391.80,125.00 392.50,122.52 393.20,120.87 393.90,120.70 394.17,118.61 394.45,119.72 394.73,118.23 395.00,116.00 395.37,115.68 395.73,114.36 396.10,112.10 397.20,111.00 398.20,108.90 398.80,106.72 399.40,106.50 399.90,104.44 400.40,103.60 400.67,102.81 400.93,101.94 401.20,100.00 401.42,99.93 401.64,98.82 401.86,95.08 402.08,95.54 402.30,94.00 403.20,92.50 404.00,90.60 405.60,88.40 406.50,88.80 406.90,88.20 407.30,86.50 408.15,85.22 409.00,83.90 409.53,81.77 410.07,81.62 410.60,80.60 411.35,77.64 412.10,77.30 412.40,77.55 412.70,76.19 413.00,74.03 413.30,72.10 413.60,71.60 414.30,71.46 415.00,68.70 415.14,67.69 415.29,67.44 415.43,66.09 415.57,63.76 415.71,62.21 415.86,61.56 416.00,60.00 416.03,58.67 416.06,56.70 416.09,56.05 416.12,56.57 416.15,53.00 416.18,51.90 416.22,52.65 416.25,50.44 416.28,50.14 416.31,48.83 416.34,47.31 416.37,48.30 416.40,45.60 416.65,43.18 416.90,42.70 416.96,43.56 417.03,44.02 417.09,46.53 417.15,46.53 417.22,47.92 417.28,50.31 417.35,50.08 417.41,51.98 417.47,54.22 417.54,52.79 417.60,55.20 417.66,55.00 417.73,56.73 417.79,59.65 417.85,60.37 417.91,60.36 417.98,61.86 418.04,62.57 418.10,64.80 418.45,66.12 418.80,67.70 418.94,65.14 419.09,66.13 419.23,65.67 419.37,64.76 419.51,62.95 419.66,62.57 419.80,60.00 420.40,56.81 421.00,56.70 421.40,57.46 421.80,61.06 422.20,61.00 422.30,63.03 422.40,63.01 422.50,65.87 422.60,65.99 422.70,67.77 422.80,67.24 422.90,68.06 423.00,70.02 423.10,70.19 423.20,72.50 423.38,73.28 423.56,76.30 423.74,75.44 423.92,75.57 424.10,78.30 425.40,79.30 425.48,76.73 425.57,76.01 425.65,76.86 425.74,74.40 425.82,73.05 425.91,71.32 425.99,73.03 426.08,70.13 426.16,68.33 426.25,66.74 426.33,65.61 426.42,64.86 426.50,64.80 427.30,63.90 427.44,65.63 427.58,65.10 427.72,65.91 427.86,68.51 428.00,69.70 428.08,70.16 428.17,73.83 428.25,72.29 428.33,74.86 428.42,76.91 428.50,77.30 428.80,78.31 429.10,81.46 429.40,81.20 429.88,82.33 430.35,82.77 430.82,84.51 431.30,86.00 431.60,85.69 431.90,88.10 432.20,88.72 432.50,90.70 432.62,93.11 432.75,94.08 432.88,94.18 433.00,93.85 433.12,95.73 433.25,96.85 433.38,97.90 433.50,100.00 433.75,100.29 434.00,103.48 434.25,102.30 434.50,103.16 434.75,107.12 435.00,106.90 435.19,108.26 435.38,110.78 435.57,110.06 435.76,112.81 435.94,113.17 436.13,114.76 436.32,115.77 436.51,116.13 436.70,117.30 436.88,117.15 437.06,118.67 437.24,121.95 437.42,123.18 437.60,124.41 437.78,123.68 437.96,125.85 438.14,127.46 438.32,128.11 438.50,128.80 438.69,130.96 438.88,131.20 439.07,132.76 439.26,134.02 439.44,133.84 439.63,137.09 439.82,138.35 440.01,136.68 440.20,139.20 440.48,141.87 440.77,143.01 441.05,143.24 441.33,142.41 441.62,146.31 441.90,146.20 442.23,146.15 442.56,149.99 442.89,150.16 443.21,150.77 443.54,151.91 443.87,153.06 444.20,154.20 444.66,155.36 445.12,156.52 445.58,157.68 446.04,158.84 446.50,160.00 447.27,161.17 448.03,162.33 448.80,163.50 449.97,164.07 451.13,164.63 452.30,165.20 453.47,165.47 454.63,165.73 455.80,166.00 456.98,166.04 458.17,166.08 459.35,166.12 460.53,166.17 461.72,166.21 462.90,166.25 464.08,166.29 465.27,166.33 466.45,166.38 467.63,166.42 468.82,166.46 470.00,166.50 471.13,166.50 472.26,166.50 473.39,166.50 474.52,166.50 475.65,166.50 476.77,166.50 477.90,166.50 479.03,166.50 480.16,166.50 481.29,166.50 482.42,166.50 483.55,166.50 484.68,166.50 485.81,166.50 486.94,166.50 488.06,166.50 489.19,166.50 490.32,166.50 491.45,166.50 492.58,166.50 493.71,166.50 494.84,166.50 495.97,166.50 497.10,166.50 498.23,166.50 499.35,166.50 500.48,166.50 501.61,166.50 502.74,166.50 503.87,166.50 505.00,166.50 506.33,166.33 507.67,166.17 509.00,166.00 510.00,164.75 511.00,163.50 512.00,162.00" fill="none" stroke="#000" stroke-width="1.3"/>
<rect x="381.3" y="35.6" width="131.2" height="131.20" fill="none" stroke="#6a6a6a" stroke-width="1.4"/>
<line x1="381.7" y1="34.9" x2="381.7" y2="167.5" stroke="#5e5e5e" stroke-width="2.0"/>
<line x1="442.3" y1="44.2" x2="454.6" y2="44.2" stroke="#000" stroke-width="1.8"/>
<line x1="442.3" y1="53.4" x2="454.6" y2="53.4" stroke="#000" stroke-width="1.4" stroke-dasharray="2.8,1.6"/>
<line x1="442.3" y1="62.8" x2="454.6" y2="62.8" stroke="#555" stroke-width="1.0"/>
<line x1="442.3" y1="72.3" x2="454.6" y2="72.3" stroke="#888" stroke-width="1.1" stroke-dasharray="2.8,1.6"/>
<text x="458.2" y="47.40" font-size="9" font-weight="bold" textLength="16.5" lengthAdjust="spacingAndGlyphs" fill="#000">CTL</text>
<text x="458.2" y="56.6" font-size="9" font-weight="bold" textLength="19.5" lengthAdjust="spacingAndGlyphs" fill="#000">MKO</text>
<text x="458.2" y="66.0" font-size="9" font-weight="bold" textLength="33" lengthAdjust="spacingAndGlyphs" fill="#000">CTL + G</text>
<text x="458.2" y="75.5" font-size="9" font-weight="bold" textLength="35" lengthAdjust="spacingAndGlyphs" fill="#000">MKO + G</text>
<text x="0.2" y="227.4" font-size="17.6" font-weight="bold" fill="#000">C</text>
<line x1="50.1" y1="235" x2="50.1" y2="390" stroke="#000" stroke-width="2"/>
<line x1="44.6" y1="389" x2="154" y2="389" stroke="#000" stroke-width="2"/>
<line x1="44.6" y1="389.0" x2="50.1" y2="389.0" stroke="#000" stroke-width="2"/>
<text x="43.9" y="392.7" font-size="10.4" font-weight="bold" text-anchor="end" fill="#000">0</text>
<line x1="44.6" y1="375.09" x2="50.1" y2="375.09" stroke="#000" stroke-width="2"/>
<text x="43.9" y="378.78" font-size="10.4" font-weight="bold" text-anchor="end" fill="#000">2</text>
<line x1="44.6" y1="361.18" x2="50.1" y2="361.18" stroke="#000" stroke-width="2"/>
<text x="43.9" y="364.88" font-size="10.4" font-weight="bold" text-anchor="end" fill="#000">4</text>
<line x1="44.6" y1="347.27" x2="50.1" y2="347.27" stroke="#000" stroke-width="2"/>
<text x="43.9" y="350.96" font-size="10.4" font-weight="bold" text-anchor="end" fill="#000">6</text>
<line x1="44.6" y1="333.36" x2="50.1" y2="333.36" stroke="#000" stroke-width="2"/>
<text x="43.9" y="337.06" font-size="10.4" font-weight="bold" text-anchor="end" fill="#000">8</text>
<line x1="44.6" y1="319.45" x2="50.1" y2="319.45" stroke="#000" stroke-width="2"/>
<text x="43.9" y="323.15" font-size="10.4" font-weight="bold" text-anchor="end" fill="#000">10</text>
<line x1="44.6" y1="305.53" x2="50.1" y2="305.53" stroke="#000" stroke-width="2"/>
<text x="43.9" y="309.23" font-size="10.4" font-weight="bold" text-anchor="end" fill="#000">12</text>
<line x1="44.6" y1="291.63" x2="50.1" y2="291.63" stroke="#000" stroke-width="2"/>
<text x="43.9" y="295.33" font-size="10.4" font-weight="bold" text-anchor="end" fill="#000">14</text>
<line x1="44.6" y1="277.72" x2="50.1" y2="277.72" stroke="#000" stroke-width="2"/>
<text x="43.9" y="281.42" font-size="10.4" font-weight="bold" text-anchor="end" fill="#000">16</text>
<line x1="44.6" y1="263.81" x2="50.1" y2="263.81" stroke="#000" stroke-width="2"/>
<text x="43.9" y="267.51" font-size="10.4" font-weight="bold" text-anchor="end" fill="#000">18</text>
<line x1="44.6" y1="249.9" x2="50.1" y2="249.9" stroke="#000" stroke-width="2"/>
<text x="43.9" y="253.6" font-size="10.4" font-weight="bold" text-anchor="end" fill="#000">20</text>
<line x1="44.6" y1="235.99" x2="50.1" y2="235.99" stroke="#000" stroke-width="2"/>
<text x="43.9" y="239.69" font-size="10.4" font-weight="bold" text-anchor="end" fill="#000">22</text>
<line x1="65.94" y1="320.4" x2="65.94" y2="326.2" stroke="#000" stroke-width="2"/>
<line x1="61.64" y1="320.4" x2="70.24" y2="320.4" stroke="#000" stroke-width="2"/>
<rect x="58.3" y="327.2" width="15.29" height="61.80" fill="#fff" stroke="#000" stroke-width="2"/>
<line x1="85.65" y1="253.8" x2="85.65" y2="263.8" stroke="#000" stroke-width="2"/>
<line x1="81.35" y1="253.8" x2="89.95" y2="253.8" stroke="#000" stroke-width="2"/>
<rect x="76.9" y="263.8" width="17.5" height="125.19" fill="#000"/>
<line x1="117.15" y1="349.2" x2="117.15" y2="352.7" stroke="#000" stroke-width="2"/>
<line x1="112.85" y1="349.2" x2="121.45" y2="349.2" stroke="#000" stroke-width="2"/>
<rect x="109.5" y="353.7" width="15.29" height="35.30" fill="#fff" stroke="#000" stroke-width="2"/>
<line x1="137.05" y1="238.2" x2="137.05" y2="250.3" stroke="#000" stroke-width="2"/>
<line x1="132.75" y1="238.2" x2="141.35" y2="238.2" stroke="#000" stroke-width="2"/>
<rect x="128.4" y="250.3" width="17.29" height="138.7" fill="#000"/>
<path d="M85.0,245 V249 M86.3,245 V249 M84.0,246.3 H87.1 M83.9,247.7 H87.0" stroke="#000" stroke-width="0.95" fill="none"/>
<path d="M135.8,230.7 V234.7 M137.10,230.7 V234.7 M134.8,232.0 H137.9 M134.70,233.39 H137.8" stroke="#000" stroke-width="0.95" fill="none"/>
<text x="62.3" y="226.9" font-size="13" font-weight="bold" textLength="84.4" lengthAdjust="spacingAndGlyphs" fill="#000">Bone Marrow</text>
<text transform="translate(28.5,308.6) rotate(-90)" x="0" y="0" font-size="11.4" font-weight="bold" text-anchor="middle" textLength="139.6" lengthAdjust="spacingAndGlyphs">Neutrophils (x10<tspan dy="-4" font-size="7">-6</tspan><tspan dy="4">/femur)</tspan></text>
<text x="64" y="402.8" font-size="10.9" font-weight="bold" textLength="21" lengthAdjust="spacingAndGlyphs" fill="#000">CTL</text>
<text x="114.3" y="402.8" font-size="10.9" font-weight="bold" textLength="26.50" lengthAdjust="spacingAndGlyphs" fill="#000">MKO</text>
<line x1="200.9" y1="233.8" x2="200.9" y2="391.2" stroke="#000" stroke-width="2"/>
<line x1="195.4" y1="390.2" x2="305.5" y2="390.2" stroke="#000" stroke-width="2"/>
<line x1="195.4" y1="390.2" x2="200.9" y2="390.2" stroke="#000" stroke-width="2"/>
<text x="194.70" y="393.9" font-size="10.4" font-weight="bold" text-anchor="end" fill="#000">0</text>
<line x1="195.4" y1="368.02" x2="200.9" y2="368.02" stroke="#000" stroke-width="2"/>
<text x="194.70" y="371.71" font-size="10.4" font-weight="bold" text-anchor="end" fill="#000">2</text>
<line x1="195.4" y1="345.84" x2="200.9" y2="345.84" stroke="#000" stroke-width="2"/>
<text x="194.70" y="349.53" font-size="10.4" font-weight="bold" text-anchor="end" fill="#000">4</text>
<line x1="195.4" y1="323.65" x2="200.9" y2="323.65" stroke="#000" stroke-width="2"/>
<text x="194.70" y="327.35" font-size="10.4" font-weight="bold" text-anchor="end" fill="#000">6</text>
<line x1="195.4" y1="301.48" x2="200.9" y2="301.48" stroke="#000" stroke-width="2"/>
<text x="194.70" y="305.18" font-size="10.4" font-weight="bold" text-anchor="end" fill="#000">8</text>
<line x1="195.4" y1="279.29" x2="200.9" y2="279.29" stroke="#000" stroke-width="2"/>
<text x="194.70" y="282.99" font-size="10.4" font-weight="bold" text-anchor="end" fill="#000">10</text>
<line x1="195.4" y1="257.12" x2="200.9" y2="257.12" stroke="#000" stroke-width="2"/>
<text x="194.70" y="260.82" font-size="10.4" font-weight="bold" text-anchor="end" fill="#000">12</text>
<line x1="195.4" y1="234.94" x2="200.9" y2="234.94" stroke="#000" stroke-width="2"/>
<text x="194.70" y="238.64" font-size="10.4" font-weight="bold" text-anchor="end" fill="#000">14</text>
<line x1="216.9" y1="379.9" x2="216.9" y2="380.3" stroke="#000" stroke-width="2"/>
<line x1="212.6" y1="379.9" x2="221.20" y2="379.9" stroke="#000" stroke-width="2"/>
<rect x="209" y="381.3" width="15.80" height="8.89" fill="#fff" stroke="#000" stroke-width="2"/>
<line x1="236.95" y1="279.9" x2="236.95" y2="300.4" stroke="#000" stroke-width="2"/>
<line x1="232.64" y1="279.9" x2="241.25" y2="279.9" stroke="#000" stroke-width="2"/>
<rect x="228" y="300.4" width="17.90" height="89.80" fill="#000"/>
<line x1="268.79" y1="312" x2="268.79" y2="316.9" stroke="#000" stroke-width="2"/>
<line x1="264.49" y1="312" x2="273.09" y2="312" stroke="#000" stroke-width="2"/>
<rect x="261.4" y="317.9" width="14.80" height="72.30" fill="#fff" stroke="#000" stroke-width="2"/>
<line x1="288.85" y1="241.8" x2="288.85" y2="259.1" stroke="#000" stroke-width="2"/>
<line x1="284.55" y1="241.8" x2="293.15" y2="241.8" stroke="#000" stroke-width="2"/>
<rect x="280" y="259.1" width="17.69" height="131.09" fill="#000"/>
<path d="M236.9,269.4 V273.4 M238.20,269.4 V273.4 M235.9,270.7 H239.0 M235.8,272.09 H238.9" stroke="#000" stroke-width="0.95" fill="none"/>
<circle cx="268.8" cy="306.1" r="1.1" fill="#000"/>
<path d="M288.4,234.5 V238.5 M289.7,234.5 V238.5 M287.4,235.8 H290.5 M287.29,237.2 H290.4" stroke="#000" stroke-width="0.95" fill="none"/>
<text x="234" y="225.7" font-size="13" font-weight="bold" textLength="36.8" lengthAdjust="spacingAndGlyphs" fill="#000">Blood</text>
<text transform="translate(177.7,312.95) rotate(-90)" x="0" y="0" font-size="11.4" font-weight="bold" text-anchor="middle" textLength="113.4" lengthAdjust="spacingAndGlyphs">Neutrophils (x10<tspan dy="-4" font-size="7">-9</tspan><tspan dy="4">/L)</tspan></text>
<text x="216.5" y="404" font-size="10.9" font-weight="bold" textLength="22.40" lengthAdjust="spacingAndGlyphs" fill="#000">CTL</text>
<text x="265.7" y="404" font-size="10.9" font-weight="bold" textLength="26.30" lengthAdjust="spacingAndGlyphs" fill="#000">MKO</text>
<line x1="352.6" y1="233.5" x2="352.6" y2="391" stroke="#000" stroke-width="2"/>
<line x1="347.1" y1="390" x2="455.5" y2="390" stroke="#000" stroke-width="2"/>
<line x1="347.1" y1="390.0" x2="352.6" y2="390.0" stroke="#000" stroke-width="2"/>
<text x="346.40" y="393.7" font-size="10.4" font-weight="bold" text-anchor="end" fill="#000">0</text>
<line x1="347.1" y1="369.2" x2="352.6" y2="369.2" stroke="#000" stroke-width="2"/>
<text x="346.40" y="372.9" font-size="10.4" font-weight="bold" text-anchor="end" fill="#000">2</text>
<line x1="347.1" y1="348.4" x2="352.6" y2="348.4" stroke="#000" stroke-width="2"/>
<text x="346.40" y="352.09" font-size="10.4" font-weight="bold" text-anchor="end" fill="#000">4</text>
<line x1="347.1" y1="327.6" x2="352.6" y2="327.6" stroke="#000" stroke-width="2"/>
<text x="346.40" y="331.3" font-size="10.4" font-weight="bold" text-anchor="end" fill="#000">6</text>
<line x1="347.1" y1="306.8" x2="352.6" y2="306.8" stroke="#000" stroke-width="2"/>
<text x="346.40" y="310.5" font-size="10.4" font-weight="bold" text-anchor="end" fill="#000">8</text>
<line x1="347.1" y1="286.0" x2="352.6" y2="286.0" stroke="#000" stroke-width="2"/>
<text x="346.40" y="289.7" font-size="10.4" font-weight="bold" text-anchor="end" fill="#000">10</text>
<line x1="347.1" y1="265.2" x2="352.6" y2="265.2" stroke="#000" stroke-width="2"/>
<text x="346.40" y="268.9" font-size="10.4" font-weight="bold" text-anchor="end" fill="#000">12</text>
<line x1="347.1" y1="244.4" x2="352.6" y2="244.4" stroke="#000" stroke-width="2"/>
<text x="346.40" y="248.1" font-size="10.4" font-weight="bold" text-anchor="end" fill="#000">14</text>
<line x1="368.25" y1="378.5" x2="368.25" y2="380.8" stroke="#000" stroke-width="2"/>
<line x1="363.95" y1="378.5" x2="372.55" y2="378.5" stroke="#000" stroke-width="2"/>
<rect x="360.6" y="381.8" width="15.29" height="8.19" fill="#fff" stroke="#000" stroke-width="2"/>
<line x1="388.45" y1="333.9" x2="388.45" y2="342" stroke="#000" stroke-width="2"/>
<line x1="384.15" y1="333.9" x2="392.75" y2="333.9" stroke="#000" stroke-width="2"/>
<rect x="379.7" y="342" width="17.5" height="48" fill="#000"/>
<line x1="420.4" y1="246" x2="420.4" y2="260.4" stroke="#000" stroke-width="2"/>
<line x1="416.09" y1="246" x2="424.7" y2="246" stroke="#000" stroke-width="2"/>
<rect x="413" y="261.4" width="14.80" height="128.60" fill="#fff" stroke="#000" stroke-width="2"/>
<line x1="439.6" y1="315.5" x2="439.6" y2="323" stroke="#000" stroke-width="2"/>
<line x1="435.3" y1="315.5" x2="443.90" y2="315.5" stroke="#000" stroke-width="2"/>
<rect x="430.7" y="323" width="17.80" height="67" fill="#000"/>
<circle cx="420.4" cy="240.2" r="1.1" fill="#000"/>
<path d="M439.9,307.2 V311.2 M441.2,307.2 V311.2 M438.9,308.5 H442.0 M438.79,309.9 H441.9" stroke="#000" stroke-width="0.95" fill="none"/>
<text x="367.9" y="225.6" font-size="13" font-weight="bold" textLength="74.6" lengthAdjust="spacingAndGlyphs" fill="#000">Distribution</text>
<text transform="translate(331.9,312.5) rotate(-90)" x="0" y="0" font-size="11.4" font-weight="bold" text-anchor="middle" textLength="131" lengthAdjust="spacingAndGlyphs">% Neutrophils in Blood</text>
<text x="369.5" y="404" font-size="10.9" font-weight="bold" textLength="21.69" lengthAdjust="spacingAndGlyphs" fill="#000">CTL</text>
<text x="419.6" y="404" font-size="10.9" font-weight="bold" textLength="26.59" lengthAdjust="spacingAndGlyphs" fill="#000">MKO</text>
<rect x="448.4" y="236.4" width="12.4" height="12.1" fill="#fff" stroke="#000" stroke-width="2.2"/>
<rect x="447.4" y="258.2" width="14.4" height="13.3" fill="#000"/>
<text x="465.4" y="244.8" font-size="10" font-weight="bold" textLength="46.6" lengthAdjust="spacingAndGlyphs" fill="#000">Untreated</text>
<text x="466.5" y="269.6" font-size="10" font-weight="bold" textLength="31.2" lengthAdjust="spacingAndGlyphs" fill="#000">G-CSF</text>
<text x="0.4" y="434.6" font-size="17.6" font-weight="bold" fill="#000">D</text>
<line x1="50.2" y1="438.5" x2="50.2" y2="594.6" stroke="#000" stroke-width="2"/>
<line x1="44.8" y1="593.6" x2="50.2" y2="593.6" stroke="#000" stroke-width="2"/>
<text x="44.2" y="597.0" font-size="9.5" font-weight="bold" text-anchor="end" textLength="5.7" lengthAdjust="spacingAndGlyphs" fill="#000">0</text>
<line x1="44.8" y1="578.15" x2="50.2" y2="578.15" stroke="#000" stroke-width="2"/>
<text x="44.2" y="581.55" font-size="9.5" font-weight="bold" text-anchor="end" textLength="5.7" lengthAdjust="spacingAndGlyphs" fill="#000">1</text>
<line x1="44.8" y1="562.7" x2="50.2" y2="562.7" stroke="#000" stroke-width="2"/>
<text x="44.2" y="566.1" font-size="9.5" font-weight="bold" text-anchor="end" textLength="5.7" lengthAdjust="spacingAndGlyphs" fill="#000">2</text>
<line x1="44.8" y1="547.25" x2="50.2" y2="547.25" stroke="#000" stroke-width="2"/>
<text x="44.2" y="550.65" font-size="9.5" font-weight="bold" text-anchor="end" textLength="5.7" lengthAdjust="spacingAndGlyphs" fill="#000">3</text>
<line x1="44.8" y1="531.80" x2="50.2" y2="531.80" stroke="#000" stroke-width="2"/>
<text x="44.2" y="535.2" font-size="9.5" font-weight="bold" text-anchor="end" textLength="5.7" lengthAdjust="spacingAndGlyphs" fill="#000">4</text>
<line x1="44.8" y1="516.35" x2="50.2" y2="516.35" stroke="#000" stroke-width="2"/>
<text x="44.2" y="519.75" font-size="9.5" font-weight="bold" text-anchor="end" textLength="5.7" lengthAdjust="spacingAndGlyphs" fill="#000">5</text>
<line x1="44.8" y1="500.90" x2="50.2" y2="500.90" stroke="#000" stroke-width="2"/>
<text x="44.2" y="504.3" font-size="9.5" font-weight="bold" text-anchor="end" textLength="5.7" lengthAdjust="spacingAndGlyphs" fill="#000">6</text>
<line x1="44.8" y1="485.45" x2="50.2" y2="485.45" stroke="#000" stroke-width="2"/>
<text x="44.2" y="488.85" font-size="9.5" font-weight="bold" text-anchor="end" textLength="5.7" lengthAdjust="spacingAndGlyphs" fill="#000">7</text>
<line x1="44.8" y1="470.0" x2="50.2" y2="470.0" stroke="#000" stroke-width="2"/>
<text x="44.2" y="473.4" font-size="9.5" font-weight="bold" text-anchor="end" textLength="5.7" lengthAdjust="spacingAndGlyphs" fill="#000">8</text>
<line x1="44.8" y1="454.55" x2="50.2" y2="454.55" stroke="#000" stroke-width="2"/>
<text x="44.2" y="457.95" font-size="9.5" font-weight="bold" text-anchor="end" textLength="5.7" lengthAdjust="spacingAndGlyphs" fill="#000">9</text>
<line x1="44.8" y1="439.1" x2="50.2" y2="439.1" stroke="#000" stroke-width="2"/>
<text x="44.2" y="442.5" font-size="9.5" font-weight="bold" text-anchor="end" textLength="11.4" lengthAdjust="spacingAndGlyphs" fill="#000">10</text>
<line x1="44.5" y1="593.6" x2="282.8" y2="593.6" stroke="#000" stroke-width="2"/>
<line x1="59.4" y1="593.6" x2="59.4" y2="598.8" stroke="#000" stroke-width="2"/>
<text x="59.4" y="609.5" font-size="9.5" font-weight="bold" text-anchor="middle" textLength="5.7" lengthAdjust="spacingAndGlyphs" fill="#000">0</text>
<line x1="87.07" y1="593.6" x2="87.07" y2="598.8" stroke="#000" stroke-width="2"/>
<text x="87.07" y="609.5" font-size="9.5" font-weight="bold" text-anchor="middle" textLength="11.4" lengthAdjust="spacingAndGlyphs" fill="#000">15</text>
<line x1="114.75" y1="593.6" x2="114.75" y2="598.8" stroke="#000" stroke-width="2"/>
<text x="114.75" y="609.5" font-size="9.5" font-weight="bold" text-anchor="middle" textLength="11.4" lengthAdjust="spacingAndGlyphs" fill="#000">30</text>
<line x1="142.42" y1="593.6" x2="142.42" y2="598.8" stroke="#000" stroke-width="2"/>
<text x="142.42" y="609.5" font-size="9.5" font-weight="bold" text-anchor="middle" textLength="11.4" lengthAdjust="spacingAndGlyphs" fill="#000">45</text>
<line x1="170.1" y1="593.6" x2="170.1" y2="598.8" stroke="#000" stroke-width="2"/>
<text x="170.1" y="609.5" font-size="9.5" font-weight="bold" text-anchor="middle" textLength="11.4" lengthAdjust="spacingAndGlyphs" fill="#000">60</text>
<line x1="197.77" y1="593.6" x2="197.77" y2="598.8" stroke="#000" stroke-width="2"/>
<text x="197.77" y="609.5" font-size="9.5" font-weight="bold" text-anchor="middle" textLength="11.4" lengthAdjust="spacingAndGlyphs" fill="#000">75</text>
<line x1="225.45" y1="593.6" x2="225.45" y2="598.8" stroke="#000" stroke-width="2"/>
<text x="225.45" y="609.5" font-size="9.5" font-weight="bold" text-anchor="middle" textLength="11.4" lengthAdjust="spacingAndGlyphs" fill="#000">90</text>
<line x1="253.12" y1="593.6" x2="253.12" y2="598.8" stroke="#000" stroke-width="2"/>
<text x="253.12" y="609.5" font-size="9.5" font-weight="bold" text-anchor="middle" textLength="17.1" lengthAdjust="spacingAndGlyphs" fill="#000">105</text>
<line x1="280.8" y1="593.6" x2="280.8" y2="598.8" stroke="#000" stroke-width="2"/>
<text x="280.8" y="609.5" font-size="9.5" font-weight="bold" text-anchor="middle" textLength="17.1" lengthAdjust="spacingAndGlyphs" fill="#000">120</text>
<text x="169.2" y="624.5" font-size="11" font-weight="bold" text-anchor="middle" textLength="58.5" lengthAdjust="spacingAndGlyphs" fill="#000">Time (min)</text>
<text transform="translate(27.7,515.35) rotate(-90)" x="0" y="0" font-size="11.4" font-weight="bold" text-anchor="middle" textLength="111.9" lengthAdjust="spacingAndGlyphs">Neutrophils (x10<tspan dy="-4" font-size="7">-9</tspan><tspan dy="4">/L)</tspan></text>
<line x1="59.5" y1="451.25" x2="59.5" y2="489.25" stroke="#7a7a7a" stroke-width="1.3"/>
<line x1="56.8" y1="451.25" x2="62.2" y2="451.25" stroke="#3a3a3a" stroke-width="1.3"/>
<line x1="56.8" y1="489.25" x2="62.2" y2="489.25" stroke="#3a3a3a" stroke-width="1.3"/>
<line x1="69.5" y1="443.25" x2="69.5" y2="471.25" stroke="#7a7a7a" stroke-width="1.3"/>
<line x1="66.8" y1="443.25" x2="72.2" y2="443.25" stroke="#3a3a3a" stroke-width="1.3"/>
<line x1="66.8" y1="471.25" x2="72.2" y2="471.25" stroke="#3a3a3a" stroke-width="1.3"/>
<line x1="115.5" y1="449.5" x2="115.5" y2="472.5" stroke="#7a7a7a" stroke-width="1.3"/>
<line x1="112.8" y1="449.5" x2="118.2" y2="449.5" stroke="#3a3a3a" stroke-width="1.3"/>
<line x1="112.8" y1="472.5" x2="118.2" y2="472.5" stroke="#3a3a3a" stroke-width="1.3"/>
<line x1="170.75" y1="463.75" x2="170.75" y2="485" stroke="#7a7a7a" stroke-width="1.3"/>
<line x1="168.05" y1="463.75" x2="173.45" y2="463.75" stroke="#3a3a3a" stroke-width="1.3"/>
<line x1="168.05" y1="485" x2="173.45" y2="485" stroke="#3a3a3a" stroke-width="1.3"/>
<line x1="281.5" y1="489.8" x2="281.5" y2="503.8" stroke="#7a7a7a" stroke-width="1.3"/>
<line x1="278.8" y1="489.8" x2="284.2" y2="489.8" stroke="#3a3a3a" stroke-width="1.3"/>
<line x1="278.8" y1="503.8" x2="284.2" y2="503.8" stroke="#3a3a3a" stroke-width="1.3"/>
<line x1="59.5" y1="560" x2="59.5" y2="571.5" stroke="#7a7a7a" stroke-width="1.3"/>
<line x1="56.8" y1="560" x2="62.2" y2="560" stroke="#3a3a3a" stroke-width="1.3"/>
<line x1="56.8" y1="571.5" x2="62.2" y2="571.5" stroke="#3a3a3a" stroke-width="1.3"/>
<line x1="69" y1="534.6" x2="69" y2="553.5" stroke="#7a7a7a" stroke-width="1.3"/>
<line x1="66.3" y1="534.6" x2="71.7" y2="534.6" stroke="#3a3a3a" stroke-width="1.3"/>
<line x1="66.3" y1="553.5" x2="71.7" y2="553.5" stroke="#3a3a3a" stroke-width="1.3"/>
<line x1="115.5" y1="471.25" x2="115.5" y2="491.25" stroke="#7a7a7a" stroke-width="1.3"/>
<line x1="112.8" y1="471.25" x2="118.2" y2="471.25" stroke="#3a3a3a" stroke-width="1.3"/>
<line x1="112.8" y1="491.25" x2="118.2" y2="491.25" stroke="#3a3a3a" stroke-width="1.3"/>
<line x1="170.75" y1="492.5" x2="170.75" y2="512" stroke="#7a7a7a" stroke-width="1.3"/>
<line x1="168.05" y1="492.5" x2="173.45" y2="492.5" stroke="#3a3a3a" stroke-width="1.3"/>
<line x1="168.05" y1="512" x2="173.45" y2="512" stroke="#3a3a3a" stroke-width="1.3"/>
<line x1="281.5" y1="534.5" x2="281.5" y2="548" stroke="#7a7a7a" stroke-width="1.3"/>
<line x1="278.8" y1="534.5" x2="284.2" y2="534.5" stroke="#3a3a3a" stroke-width="1.3"/>
<line x1="278.8" y1="548" x2="284.2" y2="548" stroke="#3a3a3a" stroke-width="1.3"/>
<line x1="59.5" y1="471.25" x2="69.5" y2="457.5" stroke="#000" stroke-width="1.9" stroke-dasharray="5.2,2.9"/>
<line x1="69.5" y1="457.5" x2="115.5" y2="461.25" stroke="#000" stroke-width="1.9" stroke-dasharray="5.2,2.9"/>
<line x1="115.5" y1="461.25" x2="170.75" y2="475.5" stroke="#000" stroke-width="1.9" stroke-dasharray="5.2,2.9"/>
<line x1="170.75" y1="475.5" x2="281.5" y2="497.1" stroke="#000" stroke-width="1.9" stroke-dasharray="5.2,2.9"/>
<path d="M57.25,473.0 L59.5,468.5 L61.75,473.0 Z" fill="#000"/>
<path d="M67.25,459.25 L69.5,454.75 L71.75,459.25 Z" fill="#000"/>
<path d="M113.25,463.0 L115.5,458.5 L117.75,463.0 Z" fill="#000"/>
<path d="M168.5,477.25 L170.75,472.75 L173.0,477.25 Z" fill="#000"/>
<path d="M279.25,498.85 L281.5,494.35 L283.75,498.85 Z" fill="#000"/>
<polyline points="59.5,565.4 69,543.8 115.5,475.75 170.75,502.5 281.5,541.2" fill="none" stroke="#000" stroke-width="2"/>
<rect x="57.1" y="563.0" width="4.8" height="4.8" fill="#000"/>
<rect x="66.6" y="541.4" width="4.8" height="4.8" fill="#000"/>
<rect x="113.1" y="473.35" width="4.8" height="4.8" fill="#000"/>
<rect x="168.35" y="500.1" width="4.8" height="4.8" fill="#000"/>
<rect x="279.1" y="538.80" width="4.8" height="4.8" fill="#000"/>
<line x1="115.5" y1="496.85" x2="115.5" y2="502.65" stroke="#000" stroke-width="1.3"/>
<line x1="113.9" y1="498.45" x2="117.1" y2="498.45" stroke="#000" stroke-width="1.4"/>
<line x1="170.75" y1="518.1" x2="170.75" y2="523.9" stroke="#000" stroke-width="1.3"/>
<line x1="169.15" y1="519.7" x2="172.35" y2="519.7" stroke="#000" stroke-width="1.4"/>
<path d="M287.3,497 H292.2 V541.9 H287.3" fill="none" stroke="#000" stroke-width="2"/>
<text x="298" y="522" font-size="8.2" font-weight="bold" textLength="35.3" lengthAdjust="spacingAndGlyphs" fill="#000"><tspan font-style="italic">P</tspan> &lt; .0001</text>
<line x1="214.2" y1="460.9" x2="218.6" y2="460.9" stroke="#000" stroke-width="1.8"/>
<line x1="220.5" y1="460.9" x2="225.39" y2="460.9" stroke="#000" stroke-width="1.8"/>
<path d="M220.1,462.7 L222.6,458.0 L225.1,462.7 Z" fill="#000"/>
<line x1="228.79" y1="460.9" x2="230.7" y2="460.9" stroke="#000" stroke-width="1.8"/>
<text x="235.6" y="463.2" font-size="9.4" font-weight="bold" textLength="21.8" lengthAdjust="spacingAndGlyphs" fill="#000">MKO</text>
<line x1="219.5" y1="549.9" x2="235.9" y2="549.9" stroke="#000" stroke-width="2"/>
<rect x="225.8" y="547.69" width="4.4" height="4.4" fill="#000"/>
<text x="240.4" y="553.2" font-size="9.4" font-weight="bold" textLength="18.2" lengthAdjust="spacingAndGlyphs" fill="#000">CTL</text>
<text x="339.6" y="434.6" font-size="17.6" font-weight="bold" fill="#000">E</text>
<line x1="381" y1="457.5" x2="381" y2="594.6" stroke="#000" stroke-width="2"/>
<line x1="375.5" y1="593.5" x2="381" y2="593.5" stroke="#000" stroke-width="2"/>
<text x="375.4" y="597.0" font-size="10" font-weight="bold" text-anchor="end" textLength="5.6" lengthAdjust="spacingAndGlyphs" fill="#000">0</text>
<line x1="375.5" y1="574.27" x2="381" y2="574.27" stroke="#000" stroke-width="2"/>
<text x="375.4" y="577.77" font-size="10" font-weight="bold" text-anchor="end" textLength="5.6" lengthAdjust="spacingAndGlyphs" fill="#000">5</text>
<line x1="375.5" y1="555.04" x2="381" y2="555.04" stroke="#000" stroke-width="2"/>
<text x="375.4" y="558.54" font-size="10" font-weight="bold" text-anchor="end" textLength="11.2" lengthAdjust="spacingAndGlyphs" fill="#000">10</text>
<line x1="375.5" y1="535.81" x2="381" y2="535.81" stroke="#000" stroke-width="2"/>
<text x="375.4" y="539.31" font-size="10" font-weight="bold" text-anchor="end" textLength="11.2" lengthAdjust="spacingAndGlyphs" fill="#000">15</text>
<line x1="375.5" y1="516.58" x2="381" y2="516.58" stroke="#000" stroke-width="2"/>
<text x="375.4" y="520.08" font-size="10" font-weight="bold" text-anchor="end" textLength="11.2" lengthAdjust="spacingAndGlyphs" fill="#000">20</text>
<line x1="375.5" y1="497.35" x2="381" y2="497.35" stroke="#000" stroke-width="2"/>
<text x="375.4" y="500.85" font-size="10" font-weight="bold" text-anchor="end" textLength="11.2" lengthAdjust="spacingAndGlyphs" fill="#000">25</text>
<line x1="375.5" y1="478.12" x2="381" y2="478.12" stroke="#000" stroke-width="2"/>
<text x="375.4" y="481.62" font-size="10" font-weight="bold" text-anchor="end" textLength="11.2" lengthAdjust="spacingAndGlyphs" fill="#000">30</text>
<line x1="375.5" y1="458.89" x2="381" y2="458.89" stroke="#000" stroke-width="2"/>
<text x="375.4" y="462.39" font-size="10" font-weight="bold" text-anchor="end" textLength="11.2" lengthAdjust="spacingAndGlyphs" fill="#000">35</text>
<line x1="375.5" y1="593.6" x2="471.8" y2="593.6" stroke="#000" stroke-width="2"/>
<rect x="388.3" y="484.2" width="29.6" height="109.4" fill="#fff" stroke="#000" stroke-width="2.2"/>
<line x1="403" y1="467" x2="403" y2="484" stroke="#000" stroke-width="1.5"/>
<line x1="395.3" y1="467" x2="411" y2="467" stroke="#000" stroke-width="1.6"/>
<rect x="432.3" y="554.6" width="31.9" height="39" fill="#000"/>
<line x1="448.2" y1="551.3" x2="448.2" y2="555" stroke="#000" stroke-width="1.5"/>
<line x1="440.3" y1="551.3" x2="456.1" y2="551.3" stroke="#000" stroke-width="1.6"/>
<circle cx="446.7" cy="545.1" r="1.15" fill="#000"/>
<circle cx="449.9" cy="545.1" r="1.15" fill="#000"/>
<line x1="403.2" y1="593.6" x2="403.2" y2="598.5" stroke="#000" stroke-width="2"/>
<text x="403.2" y="607.5" font-size="9.5" font-weight="bold" text-anchor="middle" textLength="5.7" lengthAdjust="spacingAndGlyphs" fill="#000">0</text>
<line x1="448.3" y1="593.6" x2="448.3" y2="598.5" stroke="#000" stroke-width="2"/>
<text x="448.3" y="607.5" font-size="9.5" font-weight="bold" text-anchor="middle" textLength="11.4" lengthAdjust="spacingAndGlyphs" fill="#000">30</text>
<text x="416.9" y="624.6" font-size="11" font-weight="bold" text-anchor="middle" textLength="57.7" lengthAdjust="spacingAndGlyphs" fill="#000">Time (min)</text>
<text transform="translate(360.1,525.05) rotate(-90)" x="0" y="0" font-size="11.4" font-weight="bold" text-anchor="middle" textLength="135.7" lengthAdjust="spacingAndGlyphs">CXCR4<tspan dy="-4" font-size="7">+</tspan><tspan dy="4"> Neutrophils (%)</tspan></text>
</svg>
</body></html>
